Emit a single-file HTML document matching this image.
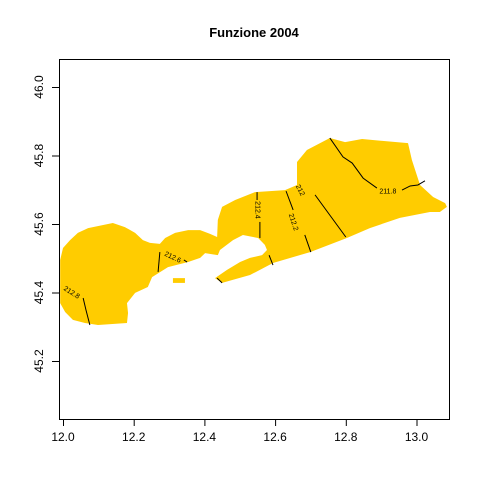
<!DOCTYPE html>
<html><head><meta charset="utf-8"><style>
body{margin:0;background:#fff}
svg{display:block;font-family:"Liberation Sans",sans-serif}
</style></head><body>
<svg id="chart" width="480" height="480" viewBox="0 0 480 480">
<text x="254" y="37" font-size="13" font-weight="bold" text-anchor="middle">Funzione 2004</text>
<rect x="59.5" y="59.5" width="390" height="360" fill="none" stroke="#000"/>
<g id="land"></g>
<g id="contours"></g>
<g id="xaxis"></g>
<g id="yaxis"></g>
</svg>
<script>
const xTicks=[12.0,12.2,12.4,12.6,12.8,13.0];
const xTickLabels=["12.0","12.2","12.4","12.6","12.8","13.0"];
const yTicks=[45.2,45.4,45.6,45.8,46.0];
const yTickLabels=["45.2","45.4","45.6","45.8","46.0"];
const landLon=[11.992,12.000,12.020,12.042,12.071,12.141,12.175,12.204,12.226,12.246,12.274,12.289,12.317,12.354,12.388,12.416,12.436,12.438,12.450,12.487,12.543,12.628,12.662,12.662,12.690,12.755,12.798,12.846,12.976,12.987,13.010,13.047,13.081,13.086,13.066,13.038,12.953,12.868,12.803,12.699,12.594,12.529,12.450,12.430,12.464,12.501,12.529,12.563,12.577,12.571,12.552,12.509,12.481,12.444,12.438,12.402,12.388,12.354,12.297,12.252,12.240,12.204,12.181,12.184,12.181,12.099,12.062,12.028,12.006,11.992];
const landLat=[45.495,45.530,45.553,45.574,45.588,45.603,45.591,45.574,45.553,45.545,45.542,45.559,45.574,45.582,45.582,45.571,45.562,45.612,45.650,45.670,45.693,45.699,45.714,45.781,45.816,45.851,45.839,45.848,45.836,45.787,45.714,45.679,45.661,45.650,45.635,45.635,45.618,45.588,45.559,45.518,45.486,45.451,45.428,45.442,45.466,45.489,45.501,45.509,45.524,45.539,45.559,45.568,45.553,45.524,45.509,45.515,45.501,45.489,45.474,45.445,45.416,45.399,45.369,45.340,45.311,45.305,45.311,45.320,45.343,45.369];
const islandLon=[12.311,12.345,12.345,12.311];
const islandLat=[45.442,45.442,45.428,45.428];
const contourLon=[[12.755,12.792,12.818,12.849,12.888],[12.959,12.982,13.004,13.024],[12.713,12.800],[12.631,12.651],[12.684,12.701],[12.549,12.549],[12.557,12.557],[12.583,12.594],[12.436,12.450],[12.274,12.269],[12.342,12.351],[12.057,12.065,12.076]];
const contourLat=[[45.851,45.796,45.778,45.734,45.705],[45.699,45.711,45.714,45.726],[45.685,45.562],[45.696,45.641],[45.568,45.518],[45.693,45.670],[45.606,45.559],[45.509,45.480],[45.442,45.428],[45.518,45.460],[45.495,45.489],[45.384,45.349,45.305]];
const labelText=["211.8","212","212.2","212.4","212.6","212.8"];
const labelLon=[12.919,12.672,12.653,12.552,12.311,12.025];
const labelLat=[45.696,45.699,45.606,45.641,45.504,45.401];
const labelRot=[0,62,72,90,25,32];

const NS="http://www.w3.org/2000/svg";
const X=v=>63+(v-12)*353.5;
const Y=v=>87+(46-v)*342.5;
function mk(t,a,p){const e=document.createElementNS(NS,t);for(const k in a)e.setAttribute(k,a[k]);p.appendChild(e);return e;}
const land=document.getElementById('land');
let pl=mk('polygon',{points:landLon.map((v,i)=>X(v)+','+Y(landLat[i])).join(' '),fill:'#FFCC00'},land);


let isl=mk('polygon',{points:islandLon.map((v,i)=>X(v)+','+Y(islandLat[i])).join(' '),fill:'#FFCC00'},land);


const cg=document.getElementById('contours');
contourLon.forEach((arr,j)=>{
 const l=mk('polyline',{points:arr.map((v,i)=>X(v)+','+Y(contourLat[j][i])).join(' '),fill:'none',stroke:'#000','stroke-width':1},cg);
 
 
});
labelText.forEach((t,i)=>{
 const x=X(labelLon[i]),y=Y(labelLat[i]);
 const e=mk('text',{x:x,y:y+2.5,'font-size':7,'text-anchor':'middle',transform:`rotate(${labelRot[i]} ${x} ${y})`},cg);
 e.textContent=t;
 
 
});
const xa=document.getElementById('xaxis');
mk('line',{x1:X(xTicks[0]),x2:X(xTicks[xTicks.length-1]),y1:419.5,y2:419.5,stroke:'#000'},xa);
xTicks.forEach((v,i)=>{
 mk('line',{x1:X(v)+.5,x2:X(v)+.5,y1:419.5,y2:426,stroke:'#000'},xa);
 const t=mk('text',{x:X(v),y:441,'font-size':12,'text-anchor':'middle'},xa);
 t.textContent=xTickLabels[i];
 
 
});
const ya=document.getElementById('yaxis');
mk('line',{x1:59.5,x2:59.5,y1:Y(yTicks[0]),y2:Y(yTicks[yTicks.length-1]),stroke:'#000'},ya);
yTicks.forEach((v,i)=>{
 mk('line',{x1:52,x2:59.5,y1:Y(v)+.5,y2:Y(v)+.5,stroke:'#000'},ya);
 const t=mk('text',{x:43,y:Y(v),'font-size':12,'text-anchor':'middle',transform:`rotate(-90 43 ${Y(v)})`},ya);
 t.textContent=yTickLabels[i];
 
 
});
</script>
</body></html>
